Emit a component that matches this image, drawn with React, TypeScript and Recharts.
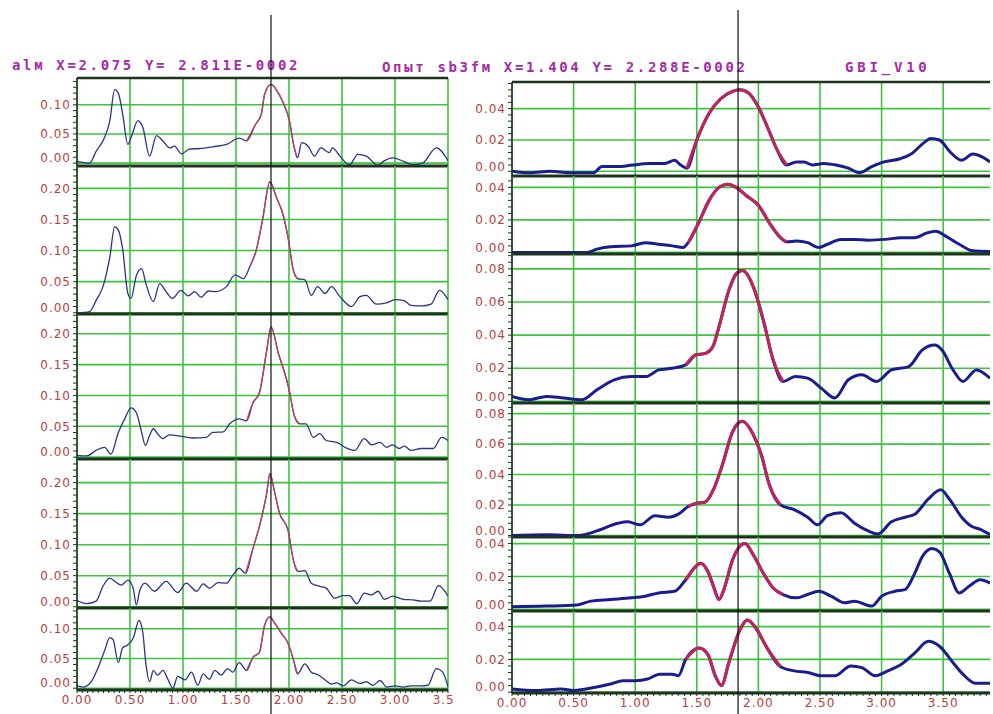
import React from "react"
import { LineChart, Line, XAxis, YAxis, CartesianGrid, ReferenceLine } from "recharts"

type Pt = [number, number]

// left column: "alм" traces, x 0..3.5
const almTrace1: Pt[] = [
  [0, 0.003], [0.12, 0], [0.18, 0.02], [0.26, 0.044], [0.31, 0.073], [0.355, 0.126], [0.39, 0.12], [0.43, 0.085],
  [0.48, 0.032], [0.51, 0.044], [0.575, 0.073], [0.62, 0.062], [0.685, 0.012], [0.75, 0.047], [0.81, 0.038],
  [0.875, 0.026], [0.92, 0.029], [0.985, 0.016], [1.06, 0.024], [1.16, 0.025], [1.28, 0.028], [1.41, 0.032],
  [1.53, 0.043], [1.6, 0.038], [1.68, 0.065], [1.74, 0.085], [1.77, 0.118], [1.83, 0.135], [1.9, 0.12], [1.96, 0.097],
  [2.0, 0.076], [2.05, 0.026], [2.08, 0.009], [2.12, 0.035], [2.18, 0.029], [2.24, 0.012], [2.3, 0.026], [2.38, 0.018],
  [2.41, 0.026], [2.48, 0.012], [2.57, -0.003], [2.65, 0.015], [2.73, 0.012], [2.84, -0.004], [2.89, 0.003],
  [2.98, 0.009], [3.08, 0.003], [3.17, -0.003], [3.26, 0], [3.39, 0.026], [3.5, 0.004],
]
const almTrace2: Pt[] = [
  [0, 0], [0.12, 0.002], [0.18, 0.02], [0.245, 0.042], [0.31, 0.09], [0.355, 0.138], [0.39, 0.133], [0.43, 0.103],
  [0.48, 0.031], [0.51, 0.023], [0.56, 0.06], [0.61, 0.071], [0.65, 0.047], [0.72, 0.018], [0.78, 0.047], [0.84, 0.034],
  [0.9, 0.023], [0.98, 0.036], [1.05, 0.027], [1.11, 0.034], [1.17, 0.025], [1.24, 0.035], [1.31, 0.034], [1.41, 0.042],
  [1.49, 0.061], [1.57, 0.055], [1.63, 0.074], [1.69, 0.1], [1.75, 0.149], [1.82, 0.211], [1.88, 0.186], [1.94, 0.16],
  [1.99, 0.122], [2.04, 0.069], [2.08, 0.055], [2.15, 0.053], [2.21, 0.028], [2.27, 0.042], [2.34, 0.031], [2.4, 0.042],
  [2.48, 0.026], [2.59, 0.01], [2.67, 0.026], [2.73, 0.028], [2.82, 0.014], [2.92, 0.016], [3.0, 0.021], [3.08, 0.02],
  [3.15, 0.012], [3.25, 0.011], [3.34, 0.014], [3.42, 0.036], [3.5, 0.021],
]
const almTrace3: Pt[] = [
  [0, 0.003], [0.09, 0.002], [0.18, 0.011], [0.26, 0.016], [0.32, 0.005], [0.39, 0.04], [0.45, 0.062], [0.51, 0.08],
  [0.56, 0.072], [0.61, 0.04], [0.645, 0.019], [0.685, 0.035], [0.72, 0.046], [0.76, 0.038], [0.81, 0.03], [0.87, 0.036],
  [0.97, 0.034], [1.09, 0.031], [1.22, 0.032], [1.28, 0.04], [1.38, 0.041], [1.44, 0.054], [1.53, 0.062], [1.6, 0.059],
  [1.66, 0.088], [1.72, 0.104], [1.79, 0.173], [1.83, 0.211], [1.9, 0.168], [1.96, 0.136], [2.0, 0.11], [2.05, 0.067],
  [2.1, 0.054], [2.16, 0.054], [2.23, 0.032], [2.29, 0.038], [2.35, 0.027], [2.45, 0.024], [2.54, 0.015], [2.62, 0.011],
  [2.71, 0.03], [2.78, 0.02], [2.86, 0.024], [2.92, 0.016], [2.98, 0.02], [3.04, 0.014], [3.09, 0.018], [3.15, 0.011],
  [3.25, 0.014], [3.36, 0.014], [3.44, 0.032], [3.5, 0.027],
]
const almTrace4: Pt[] = [
  [0, 0.01], [0.09, 0.005], [0.18, 0.009], [0.245, 0.033], [0.31, 0.046], [0.37, 0.039], [0.42, 0.035], [0.48, 0.043],
  [0.53, 0.03], [0.56, 0.003], [0.59, 0.025], [0.64, 0.038], [0.73, 0.025], [0.84, 0.041], [0.95, 0.023], [1.03, 0.038],
  [1.13, 0.025], [1.19, 0.037], [1.25, 0.03], [1.33, 0.039], [1.41, 0.038], [1.47, 0.051], [1.53, 0.062], [1.59, 0.054],
  [1.66, 0.094], [1.72, 0.129], [1.79, 0.183], [1.82, 0.215], [1.86, 0.188], [1.91, 0.151], [1.99, 0.124], [2.04, 0.076],
  [2.08, 0.057], [2.15, 0.058], [2.21, 0.038], [2.29, 0.033], [2.35, 0.03], [2.43, 0.014], [2.51, 0.018], [2.57, 0.018],
  [2.64, 0.005], [2.71, 0.022], [2.78, 0.019], [2.84, 0.025], [2.9, 0.012], [2.98, 0.017], [3.08, 0.012], [3.17, 0.011],
  [3.25, 0.009], [3.33, 0.009], [3.41, 0.034], [3.5, 0.017],
]
const almTrace5: Pt[] = [
  [0, 0.004], [0.06, 0.002], [0.135, 0.011], [0.2, 0.035], [0.26, 0.063], [0.31, 0.085], [0.34, 0.082], [0.39, 0.043],
  [0.43, 0.068], [0.48, 0.073], [0.53, 0.084], [0.585, 0.114], [0.62, 0.095], [0.65, 0.041], [0.685, 0.011], [0.72, 0.03],
  [0.76, 0.022], [0.81, 0.03], [0.86, 0.014], [0.905, 0], [0.95, 0.02], [1.02, 0.014], [1.08, 0.027], [1.14, 0.005],
  [1.19, 0.024], [1.25, 0.015], [1.3, 0.03], [1.36, 0.022], [1.42, 0.033], [1.47, 0.027], [1.53, 0.043], [1.6, 0.03],
  [1.66, 0.052], [1.72, 0.06], [1.77, 0.106], [1.82, 0.12], [1.86, 0.111], [1.93, 0.092], [1.99, 0.076], [2.04, 0.049],
  [2.08, 0.024], [2.15, 0.041], [2.21, 0.027], [2.27, 0.023], [2.34, 0.014], [2.4, 0.007], [2.45, 0.009], [2.51, 0.004],
  [2.59, 0.014], [2.67, 0.008], [2.73, 0.011], [2.79, 0.005], [2.86, 0.013], [2.92, 0.002], [3.0, 0.004], [3.08, 0.002],
  [3.15, 0.004], [3.25, 0.004], [3.31, 0.005], [3.39, 0.033], [3.45, 0.027], [3.5, 0.002],
]

// right column: "Опыт" traces, x 0..3.88
const opytTrace1: Pt[] = [
  [0, 0], [0.145, -0.001], [0.31, 0], [0.47, -0.001], [0.66, -0.001], [0.73, 0.003], [0.85, 0.003], [0.98, 0.004],
  [1.11, 0.005], [1.24, 0.005], [1.32, 0.007], [1.37, 0.004], [1.42, 0.002], [1.5, 0.02], [1.6, 0.037], [1.69, 0.046],
  [1.79, 0.051], [1.85, 0.052], [1.92, 0.05], [2.0, 0.041], [2.08, 0.027], [2.15, 0.014], [2.23, 0.004], [2.31, 0.006],
  [2.37, 0.006], [2.44, 0.004], [2.53, 0.005], [2.63, 0.004], [2.73, 0.002], [2.82, -0.001], [2.92, 0.003], [3.02, 0.006],
  [3.15, 0.008], [3.24, 0.011], [3.34, 0.018], [3.4, 0.021], [3.47, 0.02], [3.56, 0.012], [3.65, 0.007], [3.74, 0.011],
  [3.82, 0.009], [3.88, 0.006],
]
const opytTrace2: Pt[] = [
  [0, 0], [0.28, 0], [0.61, 0], [0.69, 0.002], [0.8, 0.0035], [0.97, 0.004], [1.08, 0.006], [1.19, 0.005], [1.3, 0.004],
  [1.39, 0.003], [1.43, 0.006], [1.52, 0.019], [1.6, 0.032], [1.68, 0.04], [1.75, 0.042], [1.82, 0.04], [1.9, 0.035],
  [2.0, 0.029], [2.09, 0.018], [2.18, 0.009], [2.23, 0.0065], [2.31, 0.007], [2.4, 0.006], [2.49, 0.003], [2.56, 0.005],
  [2.67, 0.008], [2.78, 0.008], [2.89, 0.0075], [3.03, 0.008], [3.16, 0.009], [3.27, 0.009], [3.37, 0.012], [3.44, 0.013],
  [3.52, 0.01], [3.63, 0.005], [3.74, 0.001], [3.88, 0.0006],
]
const opytTrace3: Pt[] = [
  [0, 0.003], [0.14, 0.001], [0.28, 0.003], [0.42, 0.002], [0.57, 0.001], [0.69, 0.007], [0.83, 0.013], [0.97, 0.015],
  [1.09, 0.015], [1.19, 0.019], [1.3, 0.02], [1.41, 0.022], [1.49, 0.028], [1.57, 0.029], [1.63, 0.033], [1.68, 0.045],
  [1.76, 0.067], [1.82, 0.077], [1.87, 0.079], [1.96, 0.069], [2.04, 0.049], [2.12, 0.025], [2.2, 0.012], [2.3, 0.015],
  [2.4, 0.014], [2.51, 0.008], [2.62, 0.002], [2.73, 0.013], [2.84, 0.016], [2.96, 0.012], [3.08, 0.019], [3.22, 0.021],
  [3.33, 0.031], [3.43, 0.034], [3.49, 0.031], [3.58, 0.019], [3.66, 0.012], [3.77, 0.019], [3.88, 0.014],
]
const opytTrace4: Pt[] = [
  [0, 0], [0.28, 0.0004], [0.54, 0], [0.69, 0.003], [0.86, 0.008], [0.94, 0.009], [1.04, 0.007], [1.16, 0.013],
  [1.27, 0.012], [1.35, 0.014], [1.43, 0.019], [1.49, 0.021], [1.57, 0.022], [1.64, 0.031], [1.71, 0.047], [1.79, 0.068],
  [1.87, 0.075], [1.96, 0.066], [2.02, 0.054], [2.09, 0.033], [2.18, 0.02], [2.29, 0.017], [2.4, 0.012], [2.48, 0.007],
  [2.56, 0.013], [2.67, 0.015], [2.78, 0.008], [2.89, 0.003], [2.97, 0.001], [3.08, 0.009], [3.19, 0.012], [3.27, 0.014],
  [3.38, 0.024], [3.48, 0.03], [3.55, 0.024], [3.65, 0.012], [3.73, 0.006], [3.8, 0.004], [3.88, 0.0006],
]
const opytTrace5: Pt[] = [
  [0, 0.0016], [0.28, 0.002], [0.53, 0.0027], [0.64, 0.005], [0.8, 0.006], [0.97, 0.007], [1.08, 0.008], [1.19, 0.01],
  [1.32, 0.011], [1.41, 0.018], [1.49, 0.026], [1.53, 0.028], [1.59, 0.023], [1.64, 0.013], [1.68, 0.006], [1.72, 0.012],
  [1.79, 0.03], [1.89, 0.04], [1.96, 0.033], [2.04, 0.022], [2.12, 0.013], [2.2, 0.009], [2.31, 0.007], [2.4, 0.009],
  [2.49, 0.011], [2.59, 0.008], [2.7, 0.004], [2.78, 0.005], [2.92, 0.002], [3.0, 0.008], [3.11, 0.011], [3.19, 0.012],
  [3.27, 0.022], [3.33, 0.032], [3.41, 0.037], [3.47, 0.035], [3.55, 0.022], [3.63, 0.01], [3.71, 0.014], [3.8, 0.018],
  [3.88, 0.016],
]
const opytTrace6: Pt[] = [
  [0, 0.002], [0.2, 0.001], [0.4, 0.002], [0.5, 0.001], [0.6, 0.002], [0.8, 0.005], [0.9, 0.007], [1.0, 0.007],
  [1.1, 0.008], [1.2, 0.011], [1.3, 0.011], [1.35, 0.01], [1.41, 0.02], [1.52, 0.027], [1.59, 0.023], [1.65, 0.01],
  [1.7, 0.004], [1.76, 0.018], [1.85, 0.038], [1.91, 0.044], [1.98, 0.039], [2.07, 0.027], [2.18, 0.0155], [2.29, 0.013],
  [2.4, 0.012], [2.51, 0.01], [2.62, 0.01], [2.75, 0.016], [2.84, 0.015], [2.95, 0.01], [3.05, 0.013], [3.16, 0.017],
  [3.27, 0.024], [3.38, 0.031], [3.47, 0.028], [3.58, 0.018], [3.66, 0.011], [3.76, 0.0055], [3.88, 0.0055],
]

// peak (red) segments per trace
const almRed: Pt[] = [[1.6, 2.08], [1.63, 2.08], [1.6, 2.1], [1.59, 2.08], [1.6, 2.08]]
const opytRed: Pt[] = [[1.42, 2.23], [1.43, 2.23], [1.41, 2.2], [1.43, 2.18], [1.41, 2.2], [1.41, 2.18]]

// axis ticks
const leftXTicks = [0, 0.5, 1, 1.5, 2, 2.5, 3, 3.5]
const rightXTicks = [0, 0.5, 1, 1.5, 2, 2.5, 3, 3.5]
const almYTicks = [
  [0, 0.05, 0.1],
  [0, 0.05, 0.1, 0.15, 0.2],
  [0, 0.05, 0.1, 0.15, 0.2],
  [0, 0.05, 0.1, 0.15, 0.2],
  [0, 0.05, 0.1],
]
const opytYTicks = [
  [0, 0.02, 0.04],
  [0, 0.02, 0.04],
  [0, 0.02, 0.04, 0.06, 0.08],
  [0, 0.02, 0.04, 0.06, 0.08],
  [0, 0.02, 0.04],
  [0, 0.02, 0.04],
]
const almYDomains: Pt[] = [[-0.005, 0.146], [-0.002, 0.236], [-0.003, 0.232], [-0.002, 0.238], [-0.003, 0.135]]
const opytYDomains: Pt[] = [[-0.003, 0.057], [-0.001, 0.047], [-0.001, 0.089], [-0.001, 0.087], [-0.001, 0.044], [-0.0005, 0.0495]]

const almCursor = 1.83
const opytCursor = 1.835

const leftHeader = "alм X=2.075 Y= 2.811E-0002"
const rightHeader = "Опыт sb3fм X=1.404 Y= 2.288E-0002"
const rightTitle = "GBI_V10"

// panel edges on the page (plot area top/bottom)
const leftEdges = [78, 166, 314, 459, 608, 690]
const rightEdges = [82, 176, 254, 403, 537, 611, 693]

const PAGE_H = 714
const LABEL = "#b8403c"
const GRID = "#3cc43c"
const DARK = "#1d351d"

function steps(from: number, to: number, step: number) {
  const out: number[] = []
  for (let v = Math.ceil(from / step) * step; v <= to + 1e-9; v += step) out.push(Math.round(v * 10000) / 10000)
  return out
}

interface PanelProps {
  trace: Pt[]
  red: Pt
  yDomain: Pt
  yTicks: number[]
  yMinor: number
  xMax: number
  xTicks: number[]
  cursor: number
  cursorTop: number
  plotTop: number
  plotBottom: number
  first: boolean
  last: boolean
  side: "left" | "right"
}

function Panel(p: PanelProps) {
  const isLeft = p.side === "left"
  const pad = 8
  const svgLeft = isLeft ? 0 : 455
  const width = isLeft ? 455 : 538
  const top = p.first ? 0 : p.plotTop - pad
  const height = p.last ? PAGE_H - top : p.plotBottom + pad - top
  const xAxisH = PAGE_H - p.plotBottom
  const margin = {
    top: p.plotTop - top,
    bottom: p.last ? 0 : pad,
    left: isLeft ? 17 : 7,
    right: isLeft ? 7 : 3,
  }
  const rows = p.trace.map(([x, y]) => ({
    x,
    y,
    r: x >= p.red[0] - 1e-9 && x <= p.red[1] + 1e-9 ? y : null,
  }))
  const yMajorStep = p.yTicks[1] - p.yTicks[0]
  const isMajor = (v: number, step: number) => Math.abs(v / step - Math.round(v / step)) < 1e-4
  const yMinorTicks = steps(0, p.yDomain[1], p.yMinor)
  const xMinorTicks = steps(0, p.xMax, 0.05)
  const tickStyle = { fill: LABEL, fontSize: 12, fontFamily: "DejaVu Sans", letterSpacing: 1 }

  // y labels: the zero label sits a little above its line, as in the source plot
  const yTick = (t: any) => {
    const v = t.payload.value
    if (!isMajor(v, yMajorStep)) return <g />
    return (
      <text x={t.x} y={t.y + (v === 0 ? -5 : 0)} dy="0.355em" textAnchor="end" {...tickStyle}>
        {v.toFixed(2)}
      </text>
    )
  }

  const cursorShape = (s: any) => {
    const y1 = Math.min(s.y1, s.y2)
    const y2 = Math.max(s.y1, s.y2)
    return (
      <line
        x1={s.x1}
        x2={s.x2}
        y1={p.first ? y1 - (p.plotTop - p.cursorTop) : y1}
        y2={p.last ? y2 + xAxisH : y2}
        stroke="#111"
        strokeWidth={1.2}
      />
    )
  }

  return (
    <div style={{ position: "absolute", left: svgLeft, top }}>
      <LineChart width={width} height={height} data={rows} margin={margin}>
        <CartesianGrid
          stroke={GRID}
          strokeWidth={1.6}
          horizontalValues={p.yTicks}
          verticalValues={p.xTicks}
        />
        <XAxis
          type="number"
          dataKey="x"
          domain={[0, p.xMax]}
          allowDataOverflow
          hide={!p.last}
          height={p.last ? xAxisH : 0}
          ticks={p.last ? xMinorTicks : p.xTicks}
          interval={0}
          tickFormatter={(v: number) => (isMajor(v, 0.5) ? v.toFixed(2) : "")}
          axisLine={false}
          tickLine={{ stroke: DARK }}
          tickSize={3}
          tick={tickStyle}
        />
        <YAxis
          type="number"
          domain={p.yDomain}
          allowDataOverflow
          width={isLeft ? 60 : 50}
          ticks={yMinorTicks}
          interval={0}
          axisLine={{ stroke: DARK, strokeWidth: 1.5 }}
          tickLine={{ stroke: DARK }}
          tickSize={4}
          tick={yTick}
        />
        <Line
          type="monotone"
          dataKey="y"
          stroke={isLeft ? "#2b3488" : "#1b1d8e"}
          strokeWidth={isLeft ? 1.3 : 3}
          dot={false}
          isAnimationActive={false}
        />
        <Line
          type="monotone"
          dataKey="r"
          stroke={isLeft ? "#c4406a" : "#c0245a"}
          strokeWidth={isLeft ? 1.3 : 3}
          dot={false}
          isAnimationActive={false}
        />
        <ReferenceLine y={p.yDomain[0]} stroke={DARK} strokeWidth={3} />
        {p.first && <ReferenceLine y={p.yDomain[1]} stroke={DARK} strokeWidth={2.5} />}
        <ReferenceLine x={p.cursor} shape={cursorShape} />
      </LineChart>
    </div>
  )
}

const headerStyle: React.CSSProperties = {
  position: "absolute",
  fontFamily: "DejaVu Sans Mono",
  fontWeight: "bold",
  fontSize: 14,
  lineHeight: "16px",
  letterSpacing: 2.65,
  color: "#a52aa8",
  whiteSpace: "pre",
}

export default function App() {
  const almTraces = [almTrace1, almTrace2, almTrace3, almTrace4, almTrace5]
  const opytTraces = [opytTrace1, opytTrace2, opytTrace3, opytTrace4, opytTrace5, opytTrace6]
  return (
    <div style={{ position: "absolute", left: 0, top: 0, width: 993, height: PAGE_H, background: "#fff", overflow: "hidden" }}>
      <div style={{ ...headerStyle, left: 12, top: 57 }}>{leftHeader}</div>
      <div style={{ ...headerStyle, left: 382, top: 59 }}>{rightHeader}</div>
      <div style={{ ...headerStyle, left: 845, top: 59, letterSpacing: 3.8 }}>{rightTitle}</div>
      {almTraces.map((t, i) => (
        <Panel
          key={"l" + i}
          side="left"
          trace={t}
          red={almRed[i]}
          yDomain={almYDomains[i]}
          yTicks={almYTicks[i]}
          yMinor={0.01}
          xMax={3.5}
          xTicks={leftXTicks}
          cursor={almCursor}
          cursorTop={15}
          plotTop={leftEdges[i]}
          plotBottom={leftEdges[i + 1]}
          first={i === 0}
          last={i === almTraces.length - 1}
        />
      ))}
      {opytTraces.map((t, i) => (
        <Panel
          key={"r" + i}
          side="right"
          trace={t}
          red={opytRed[i]}
          yDomain={opytYDomains[i]}
          yTicks={opytYTicks[i]}
          yMinor={0.004}
          xMax={3.88}
          xTicks={rightXTicks}
          cursor={opytCursor}
          cursorTop={10}
          plotTop={rightEdges[i]}
          plotBottom={rightEdges[i + 1]}
          first={i === 0}
          last={i === opytTraces.length - 1}
        />
      ))}
    </div>
  )
}
